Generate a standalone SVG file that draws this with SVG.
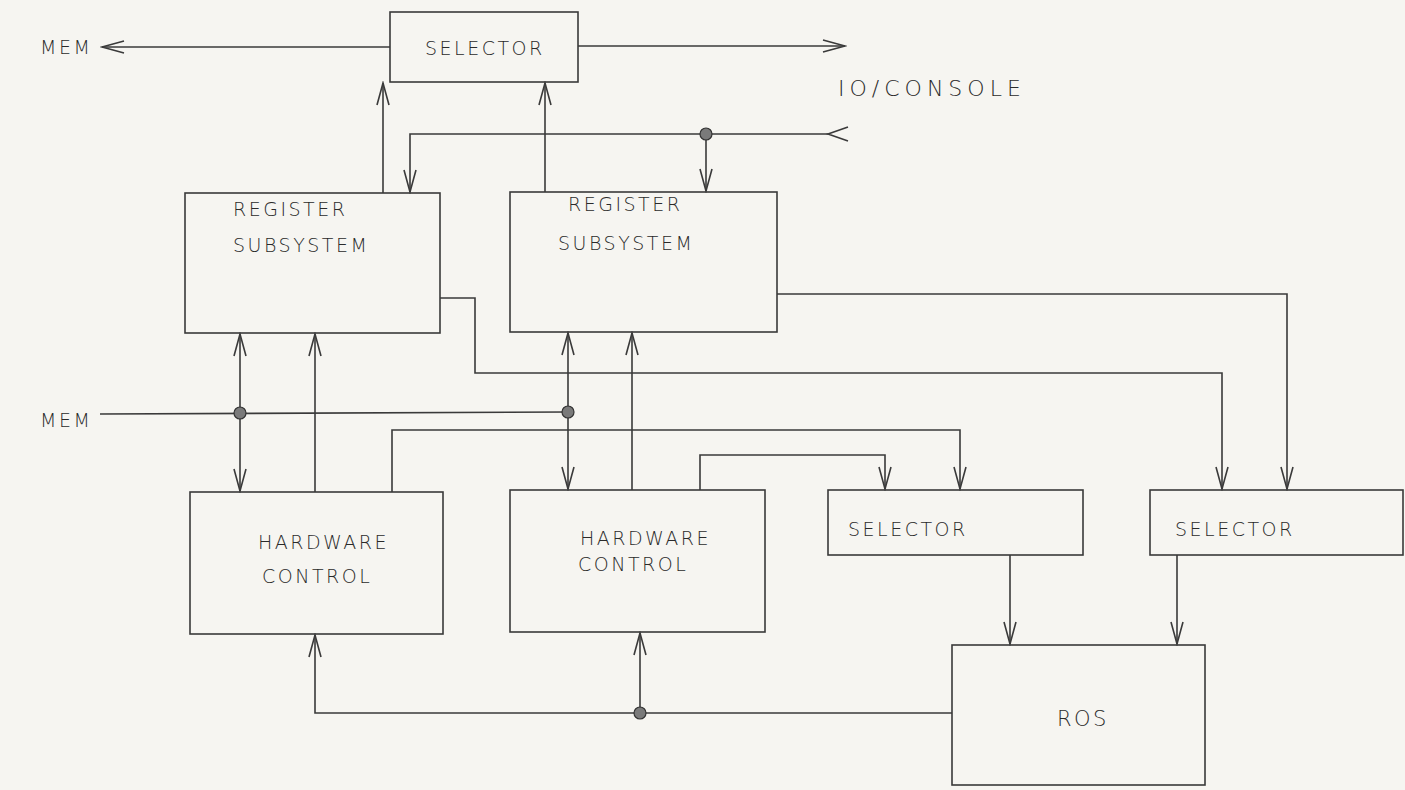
<svg xmlns="http://www.w3.org/2000/svg" width="1405" height="790" viewBox="0 0 1405 790">
<defs>
<style>
.bg{fill:#f6f5f1}
.box{fill:none;stroke:#3a3a3a;stroke-width:1.6}
.ln{fill:none;stroke:#3a3a3a;stroke-width:1.6}
.t{font-family:"DejaVu Sans",sans-serif;font-size:19px;font-weight:300;fill:#2a2a2a;letter-spacing:2.5px}
.dot{fill:#7a7a7a;stroke:#333;stroke-width:1.2}
</style>
<marker id="ah" viewBox="-24 -8 26 16" refX="0" refY="0" markerWidth="26" markerHeight="16" markerUnits="userSpaceOnUse" orient="auto-start-reverse">
<path d="M-22,-6 L0,0 L-22,6" fill="none" stroke="#3a3a3a" stroke-width="1.6"/>
</marker>
</defs>
<rect class="bg" x="0" y="0" width="1405" height="790"/>

<g id="connectors">
<!-- top selector outputs -->
<line class="ln" x1="390" y1="47" x2="102" y2="47" marker-end="url(#ah)"/>
<line class="ln" x1="578" y1="46" x2="845" y2="46" marker-end="url(#ah)"/>
<!-- reg -> top selector -->
<line class="ln" x1="383" y1="193" x2="383" y2="83" marker-end="url(#ah)"/>
<line class="ln" x1="545" y1="192" x2="545" y2="83" marker-end="url(#ah)"/>
<!-- IO/console bus -->
<polyline class="ln" points="828,134 410,134 410,192" marker-end="url(#ah)"/>
<path class="ln" d="M848,127 L828,134 L848,141"/>
<line class="ln" x1="706" y1="134" x2="706" y2="191" marker-end="url(#ah)"/>
<!-- reg1 -> selector2 -->
<polyline class="ln" points="440,298 475,298 475,373 1222,373 1222,489" marker-end="url(#ah)"/>
<!-- reg2 -> selector2 -->
<polyline class="ln" points="777,294 1287,294 1287,489" marker-end="url(#ah)"/>
<!-- reg1 <-> hc1 -->
<line class="ln" x1="240" y1="334" x2="240" y2="491" marker-start="url(#ah)" marker-end="url(#ah)"/>
<line class="ln" x1="315" y1="492" x2="315" y2="334" marker-end="url(#ah)"/>
<!-- reg2 <-> hc2 -->
<line class="ln" x1="568" y1="333" x2="568" y2="489" marker-start="url(#ah)" marker-end="url(#ah)"/>
<line class="ln" x1="632" y1="490" x2="632" y2="333" marker-end="url(#ah)"/>
<!-- MEM bus -->
<line class="ln" x1="100" y1="414" x2="568" y2="412"/>
<!-- hc1 -> selector1 -->
<polyline class="ln" points="392,492 392,430 960,430 960,489" marker-end="url(#ah)"/>
<!-- hc2 -> selector1 -->
<polyline class="ln" points="700,490 700,455 885,455 885,489" marker-end="url(#ah)"/>
<!-- selectors -> ROS -->
<line class="ln" x1="1010" y1="555" x2="1010" y2="644" marker-end="url(#ah)"/>
<line class="ln" x1="1177" y1="555" x2="1177" y2="644" marker-end="url(#ah)"/>
<!-- ROS -> hardware controls -->
<polyline class="ln" points="952,713 315,713 315,635" marker-end="url(#ah)"/>
<line class="ln" x1="640" y1="713" x2="640" y2="633" marker-end="url(#ah)"/>
<!-- junction dots -->
<circle class="dot" cx="706" cy="134" r="6"/>
<circle class="dot" cx="240" cy="413" r="6"/>
<circle class="dot" cx="568" cy="412" r="6"/>
<circle class="dot" cx="640" cy="713" r="6"/>
</g>

<g id="labels">
<text class="t" x="40" y="54">MEM</text>
<text class="t" x="40" y="427">MEM</text>
<text class="t" x="838" y="96" style="font-size:22px;letter-spacing:5px">IO/CONSOLE</text>
</g>

<g id="selector-top">
<rect class="box" x="390" y="12" width="188" height="70"/>
<text class="t" x="425" y="55">SELECTOR</text>
</g>

<g id="register-1">
<rect class="box" x="185" y="193" width="255" height="140"/>
<text class="t" x="233" y="216">REGISTER</text>
<text class="t" x="233" y="252">SUBSYSTEM</text>
</g>

<g id="register-2">
<rect class="box" x="510" y="192" width="267" height="140"/>
<text class="t" x="568" y="211">REGISTER</text>
<text class="t" x="558" y="250">SUBSYSTEM</text>
</g>

<g id="hardware-1">
<rect class="box" x="190" y="492" width="253" height="142"/>
<text class="t" x="258" y="549">HARDWARE</text>
<text class="t" x="262" y="583">CONTROL</text>
</g>

<g id="hardware-2">
<rect class="box" x="510" y="490" width="255" height="142"/>
<text class="t" x="580" y="545">HARDWARE</text>
<text class="t" x="578" y="571">CONTROL</text>
</g>

<g id="selector-1">
<rect class="box" x="828" y="490" width="255" height="65"/>
<text class="t" x="848" y="536">SELECTOR</text>
</g>

<g id="selector-2">
<rect class="box" x="1150" y="490" width="253" height="65"/>
<text class="t" x="1175" y="536">SELECTOR</text>
</g>

<g id="ros">
<rect class="box" x="952" y="645" width="253" height="140"/>
<text class="t" x="1057" y="726" style="font-size:21px">ROS</text>
</g>
</svg>
